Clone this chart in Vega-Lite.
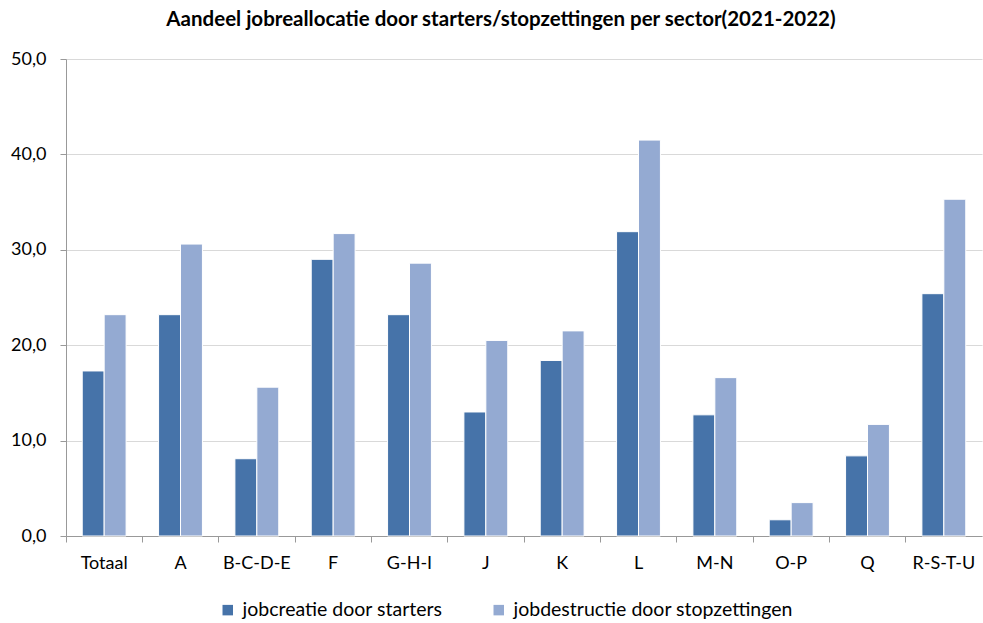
{
  "$schema": "https://vega.github.io/schema/vega-lite/v6.json",
  "width": 916,
  "height": 477,
  "autosize": {"type": "none"},
  "padding": {"left": 66, "top": 59, "right": 1, "bottom": 87},
  "background": "white",
  "title": {
    "text": "Aandeel jobreallocatie door starters/stopzettingen per sector(2021-2022)",
    "font": "Lato",
    "fontSize": 20.5,
    "fontWeight": "bold",
    "color": "#000000",
    "anchor": "middle",
    "dx": -23,
    "offset": 20
  },
  "data": {
    "values": [
      {"sector": "Totaal", "reeks": "jobcreatie door starters", "waarde": 17.3},
      {"sector": "Totaal", "reeks": "jobdestructie door stopzettingen", "waarde": 23.2},
      {"sector": "A", "reeks": "jobcreatie door starters", "waarde": 23.2},
      {"sector": "A", "reeks": "jobdestructie door stopzettingen", "waarde": 30.6},
      {"sector": "B-C-D-E", "reeks": "jobcreatie door starters", "waarde": 8.1},
      {"sector": "B-C-D-E", "reeks": "jobdestructie door stopzettingen", "waarde": 15.6},
      {"sector": "F", "reeks": "jobcreatie door starters", "waarde": 29.0},
      {"sector": "F", "reeks": "jobdestructie door stopzettingen", "waarde": 31.7},
      {"sector": "G-H-I", "reeks": "jobcreatie door starters", "waarde": 23.2},
      {"sector": "G-H-I", "reeks": "jobdestructie door stopzettingen", "waarde": 28.6},
      {"sector": "J", "reeks": "jobcreatie door starters", "waarde": 13.0},
      {"sector": "J", "reeks": "jobdestructie door stopzettingen", "waarde": 20.5},
      {"sector": "K", "reeks": "jobcreatie door starters", "waarde": 18.4},
      {"sector": "K", "reeks": "jobdestructie door stopzettingen", "waarde": 21.5},
      {"sector": "L", "reeks": "jobcreatie door starters", "waarde": 31.9},
      {"sector": "L", "reeks": "jobdestructie door stopzettingen", "waarde": 41.5},
      {"sector": "M-N", "reeks": "jobcreatie door starters", "waarde": 12.7},
      {"sector": "M-N", "reeks": "jobdestructie door stopzettingen", "waarde": 16.6},
      {"sector": "O-P", "reeks": "jobcreatie door starters", "waarde": 1.7},
      {"sector": "O-P", "reeks": "jobdestructie door stopzettingen", "waarde": 3.5},
      {"sector": "Q", "reeks": "jobcreatie door starters", "waarde": 8.4},
      {"sector": "Q", "reeks": "jobdestructie door stopzettingen", "waarde": 11.7},
      {"sector": "R-S-T-U", "reeks": "jobcreatie door starters", "waarde": 25.4},
      {"sector": "R-S-T-U", "reeks": "jobdestructie door stopzettingen", "waarde": 35.3}
    ]
  },
  "mark": {"type": "bar", "stroke": "white", "strokeWidth": 1},
  "encoding": {
    "x": {
      "field": "sector",
      "type": "nominal",
      "sort": null,
      "scale": {"paddingInner": 0, "paddingOuter": 0},
      "axis": {
        "title": null,
        "labelAngle": 0,
        "labelFont": "Lato",
        "labelFontSize": 18,
        "labelColor": "#000000",
        "labelPadding": 12,
        "bandPosition": 0,
        "tickSize": 6,
        "tickColor": "#999999",
        "domainColor": "#999999",
        "grid": false
      }
    },
    "xOffset": {
      "field": "reeks",
      "type": "nominal",
      "scale": {"paddingInner": 0, "paddingOuter": 0.74}
    },
    "y": {
      "field": "waarde",
      "type": "quantitative",
      "scale": {"domain": [0, 50], "nice": false},
      "axis": {
        "title": null,
        "values": [0, 10, 20, 30, 40, 50],
        "labelExpr": "replace(format(datum.value, '.1f'), '.', ',')",
        "labelFont": "Lato",
        "labelFontSize": 18,
        "labelColor": "#000000",
        "labelPadding": 14,
        "tickSize": 6,
        "tickColor": "#999999",
        "domainColor": "#999999",
        "gridColor": "#d9d9d9"
      }
    },
    "color": {
      "field": "reeks",
      "type": "nominal",
      "scale": {"range": ["#4673A9", "#94AAD2"]},
      "legend": {
        "title": null,
        "orient": "none",
        "direction": "horizontal",
        "legendX": 152,
        "legendY": 541,
        "symbolType": "square",
        "symbolSize": 110,
        "symbolStrokeWidth": 0,
        "labelFont": "Lato",
        "labelFontSize": 19.5,
        "labelColor": "#000000",
        "labelLimit": 0,
        "labelOffset": 5,
        "columnPadding": 46
      }
    }
  },
  "config": {"view": {"stroke": null}}
}
